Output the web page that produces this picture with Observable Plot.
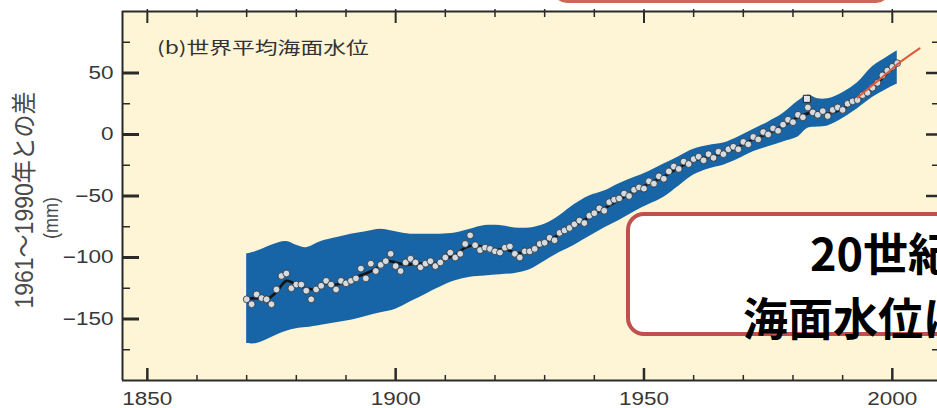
<!DOCTYPE html>
<html>
<head>
<meta charset="utf-8">
<script src="https://cdn.jsdelivr.net/npm/d3@7"></script>
<script src="https://cdn.jsdelivr.net/npm/@observablehq/plot@0.6"></script>
<style>
  html, body { margin: 0; padding: 0; background: #ffffff; overflow: hidden; }
  #wrap { position: relative; width: 937px; height: 408px; overflow: hidden; background: #ffffff; }
  #wrap svg { position: absolute; left: 0; top: 0; }
  .ov { position: absolute; white-space: nowrap; line-height: 1; }
  #title { left: 157px; top: 34px; font: 17px "Noto Sans CJK JP", sans-serif; color: #333; transform: scaleX(1.34); transform-origin: left center; }
  #ylab { left: 22px; top: 200px; font: 23px "Liberation Sans", "Noto Sans CJK JP", sans-serif; color: #4a4a4a; transform: translate(-50%, -50%) rotate(-90deg) scaleY(1.1); }
  #yunit { left: 52px; top: 218px; font: 18px "Liberation Sans", "Noto Sans CJK JP", sans-serif; color: #4a4a4a; transform: translate(-50%, -50%) rotate(-90deg) scaleY(1.1); }
  #topbox { left: 553px; top: -57px; width: 337px; height: 60px; box-sizing: border-box; border: 3px solid #c86a55; border-radius: 14px; background: #ffffff; }
  #box { left: 626px; top: 212px; width: 420px; height: 124px; box-sizing: border-box; border: 4px solid #c0504d; border-radius: 18px; background: #ffffff; }
  #big { position: absolute; left: 743px; top: 219px; white-space: nowrap; line-height: 58px; text-indent: 67px; font: bold 45px "Noto Sans CJK JP", sans-serif; color: #000; }
</style>
</head>
<body>
<div id="wrap"></div>
<script>
// ---- data ----
const xDomain = [1845, 2009.1];
const yDomain = [-200, 100];
const yMajor = [50, 0, -50, -100, -150];
const yMinor = [75, 25, -25, -75, -125, -175];
const xMajor = [1850, 1900, 1950, 2000];
const xMinor = [1860, 1870, 1880, 1890, 1910, 1920, 1930, 1940, 1960, 1970, 1980, 1990];

// annual tide-gauge values (mm), one per year from annualStart
const annualStart = 1870;
const annualMm = [
  -134, -138, -130, -133, -134, -138, -126, -115, -113, -125,
  -122, -122, -127, -134, -126, -123, -119, -122, -126, -119,
  -121, -119, -117, -109, -117, -105, -111, -106, -103, -97,
  -107, -111, -104, -101, -104, -108, -105, -103, -107, -104,
  -100, -96, -100, -97, -89, -82, -90, -94, -92, -93,
  -95, -96, -92, -91, -97, -100, -95, -95, -93, -89,
  -88, -84, -86, -80, -78, -76, -73, -70, -72, -66,
  -64, -60, -62, -55, -53, -52, -48, -50, -45, -43,
  -44, -38, -40, -34, -36, -30, -26, -28, -22, -24,
  -20, -18, -21, -16, -19, -14, -16, -12, -10, -12,
  -6, -8, -2, -4, 2, 0, 5, 3, 8, 12,
  10, 16, 14, 22, 18, 16, 19, 15, 20, 22,
  20, 25, 27, 28, 32, 34, 38, 42, 48, 52,
  55, 58
];

// uncertainty band
const bandYears = [1870, 1872, 1875, 1878, 1880, 1882, 1885, 1888, 1891, 1894, 1897, 1900, 1903, 1906, 1909, 1912, 1915, 1918, 1921, 1924, 1927, 1930, 1933, 1936, 1939, 1942, 1945, 1948, 1951, 1954, 1957, 1960, 1963, 1966, 1969, 1972, 1975, 1978, 1981, 1983, 1985, 1987, 1990, 1993, 1996, 1999, 2001];
const bandLower = [-170, -170, -165, -160, -158, -157, -155, -153, -151, -148, -145, -142, -136, -130, -124, -119, -116, -115, -114, -113, -110, -103, -96, -90, -83, -76, -70, -63, -57, -51, -42, -33, -28, -25, -20, -14, -10, -6, -2, 5, 6, 7, 13, 21, 30, 37, 41];
const bandUpper = [-97, -95, -90, -87, -90, -92, -87, -84, -81, -79, -77, -79, -81, -81, -81, -80, -77, -74, -74, -76, -76, -73, -66, -57, -50, -46, -40, -35, -30, -24, -18, -12, -9, -7, -2, 4, 10, 17, 27, 32, 29, 29, 34, 42, 55, 63, 68];

// smoothed (black) curve
const smoothYears = [1870, 1872, 1874, 1876, 1878, 1880, 1882, 1884, 1886, 1888, 1890, 1892, 1894, 1896, 1898, 1900, 1902, 1904, 1906, 1908, 1910, 1912, 1914, 1916, 1918, 1920, 1922, 1924, 1926, 1928, 1930, 1933, 1936, 1939, 1942, 1945, 1948, 1951, 1954, 1957, 1960, 1963, 1966, 1969, 1972, 1975, 1978, 1981, 1984, 1987, 1990, 1993, 1996, 1999, 2001];
const smoothMm = [-134, -133, -134, -128, -119, -122, -125, -126, -121, -122, -120, -116, -113, -109, -103, -104, -106, -105, -105, -105, -101, -98, -92, -90, -92, -94, -93, -96, -96, -93, -88, -81, -74, -67, -60, -53, -46, -40, -34, -27, -21, -18, -15, -10, -4, 1, 7, 14, 18, 17, 21, 29, 38, 50, 57];

// satellite altimetry (red)
const satYears = [1993, 1996, 1999, 2001, 2003, 2005.5];
const satMm = [30, 40, 50, 57, 63, 70];

// single square marker
const squareYear = [1982.8];
const squareMm = [29];

// ---- tables for the library ----
const annual = annualMm.map((v, i) => ({year: annualStart + i, mm: v}));
const band = bandYears.map((y, i) => ({year: y, lo: bandLower[i], hi: bandUpper[i]}));
const smooth = smoothYears.map((y, i) => ({year: y, mm: smoothMm[i]}));
const sat = satYears.map((y, i) => ({year: y, mm: satMm[i]}));
const squares = squareYear.map((y, i) => ({year: y, mm: squareMm[i]}));

const ink = "#2a2a2a";
const tickOnly = {fill: "none", label: null, stroke: ink};

const chart = Plot.plot({
  width: 937,
  height: 408,
  marginLeft: 122,
  marginRight: 0,
  marginTop: 11,
  marginBottom: 28,
  x: {domain: xDomain, label: null},
  y: {domain: yDomain, label: null},
  style: {background: "transparent", fontFamily: "'Liberation Sans', Arial, sans-serif", color: "#333", overflow: "visible"},
  marks: [
    Plot.frame({fill: "#fdf5d5", stroke: "none"}),
    Plot.areaY(band, {x: "year", y1: "lo", y2: "hi", fill: "#1764a6", curve: "catmull-rom"}),
    Plot.line(smooth, {x: "year", y: "mm", stroke: "#141414", strokeWidth: 2.6, curve: "catmull-rom"}),
    Plot.dot(annual, {x: "year", y: "mm", r: 3.4, fill: "#d3dbe3", stroke: "#303030", strokeWidth: 0.8}),
    Plot.dot(squares, {x: "year", y: "mm", symbol: "square", r: 4, fill: "#dfe6ea", stroke: "#222", strokeWidth: 1}),
    Plot.line(sat, {x: "year", y: "mm", stroke: "#e2583a", strokeWidth: 2, curve: "catmull-rom"}),
    // frame lines (left, bottom, top)
    Plot.ruleX([xDomain[0]], {stroke: ink, strokeWidth: 2}),
    Plot.ruleY([yDomain[0]], {stroke: ink, strokeWidth: 2}),
    Plot.ruleY([yDomain[1]], {stroke: ink, strokeWidth: 2}),
    // left ticks (inward)
    Plot.axisY(yMajor, {anchor: "left", tickSize: -17, strokeWidth: 3, ...tickOnly}),
    Plot.axisY(yMinor, {anchor: "left", tickSize: -8, strokeWidth: 1.5, ...tickOnly}),
    // right ticks (inward)
    Plot.axisY(yMajor, {anchor: "right", tickSize: -12, strokeWidth: 2.5, ...tickOnly}),
    Plot.axisY(yMinor, {anchor: "right", tickSize: -6, strokeWidth: 1.5, ...tickOnly}),
    // bottom ticks (inward)
    Plot.axisX(xMajor, {anchor: "bottom", tickSize: -12, strokeWidth: 2.5, ...tickOnly}),
    Plot.axisX(xMinor, {anchor: "bottom", tickSize: -5, strokeWidth: 1.5, ...tickOnly}),
    // top ticks (cross the line)
    Plot.axisX(xMajor.concat(xMinor), {anchor: "top", tickSize: 3, strokeWidth: 1.5, ...tickOnly}),
    Plot.axisX(xMinor, {anchor: "top", tickSize: -5, strokeWidth: 1.5, ...tickOnly}),
    Plot.axisX(xMajor, {anchor: "top", tickSize: -11, strokeWidth: 2, ...tickOnly}),
    // tick labels
    Plot.axisY(yMajor, {anchor: "left", tickSize: 0, tickPadding: 9, fontSize: 18, fill: "#383838", label: null}),
    Plot.axisX(xMajor, {anchor: "bottom", tickSize: 0, tickPadding: 12, fontSize: 18, fill: "#383838", label: null, tickFormat: d => String(d)})
  ]
});

// widen tick label glyphs like the reference
d3.select(chart).selectAll("g[aria-label$='tick label'] text").each(function() {
  const t = this.getAttribute("transform") || "";
  this.setAttribute("transform", t + " scale(1.25,1)");
});

const wrap = document.getElementById("wrap");
wrap.appendChild(chart);
wrap.insertAdjacentHTML("beforeend", `
  <div class="ov" id="topbox"></div>
  <div class="ov" id="title">(b)世界平均海面水位</div>
  <div class="ov" id="ylab">1961～1990年との差</div>
  <div class="ov" id="yunit">(mm)</div>
  <div class="ov" id="box"></div>
  <div id="big">20世紀中に<br>海面水位は上昇</div>
`);
</script>
</body>
</html>
